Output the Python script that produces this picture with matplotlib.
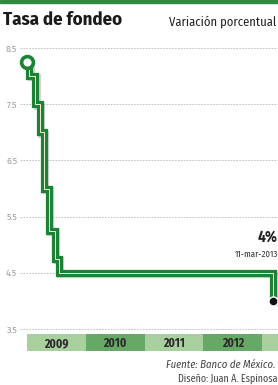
import matplotlib.pyplot as plt
import matplotlib.patheffects as pe

# datos: tasa objetivo Banxico (fecha en años fraccionarios)
fechas = [2009.0, 2009.04, 2009.14, 2009.22, 2009.29, 2009.37, 2009.47, 2009.54, 2013.18, 2013.19]
tasas = [8.25, 8.0, 7.5, 7.0, 6.0, 5.25, 4.75, 4.5, 4.0, 4.0]
anios = [2009, 2010, 2011, 2012, 2013]
etiquetas_anio = ["2009", "2010", "2011", "2012", ""]
colores_anio = ["#a9cf9f", "#66a866", "#a9cf9f", "#66a866", "#a9cf9f"]
yticks = [3.5, 4.5, 5.5, 6.5, 7.5, 8.5]

fuente = ["Fira Sans Condensed", "PT Sans Narrow", "DejaVu Sans"]
plt.rcParams["font.family"] = fuente

verde = "#1c8236"

fig = plt.figure(figsize=(2.78, 3.85), dpi=100)
fig.patches.append(plt.Rectangle((0, 1 - 3 / 385), 1, 3 / 385, transform=fig.transFigure,
                                 color="#2e8b3e", zorder=0))

ax = fig.add_axes([20 / 278, 1 - 329 / 385, 258 / 278, 281 / 385])
ax.set_xlim(2008.88, 2013.27)
ax.set_ylim(3.5, 8.5)
for s in ax.spines.values():
    s.set_visible(False)
ax.set_xticks([])
ax.set_yticks(yticks)
ax.set_yticklabels([str(t) for t in yticks], fontsize=7, color="#a0a0a0")
ax.tick_params(axis="y", length=0, pad=2)
for t in yticks:
    ax.axhline(t, color="#b8b8b8", lw=0.6, ls=(0, (2, 1.5)), zorder=1, clip_on=False)

ax.plot(fechas, tasas, drawstyle="steps-post", color=verde, lw=5.2, zorder=3,
        solid_joinstyle="miter", clip_on=False,
        path_effects=[pe.SimpleLineShadow(offset=(1, -1), shadow_color="#888888", alpha=0.35),
                      pe.Normal()])
ax.plot(fechas, tasas, drawstyle="steps-post", color="#f3efd6", lw=0.7, zorder=4,
        solid_joinstyle="miter", clip_on=False)
ax.plot(fechas[0], tasas[0], "o", ms=8.5, mfc="white", mec=verde, mew=2.6, zorder=5, clip_on=False)
ax.plot(fechas[-1], tasas[-1], "o", ms=6.5, mfc="#111111", mec="white", mew=1, zorder=5, clip_on=False)

ax.text(2013.27, 5.05, "4%", ha="right", va="baseline", fontsize=11, fontweight="bold",
        color="#222222")
ax.text(2013.27, 4.78, "11-mar-2013", ha="right", va="baseline", fontsize=6.3,
        color="#333333")

# franjas de años
ax2 = fig.add_axes([20 / 278, 1 - 351 / 385, 258 / 278, 17 / 385], sharex=ax)
ax2.bar(anios, [1] * len(anios), width=1, align="edge", color=colores_anio, edgecolor="none")
ax2.set_ylim(0, 1)
ax2.axis("off")
for a, e in zip(anios, etiquetas_anio):
    ax2.text(a + 0.5, 0.45, e, ha="center", va="center", fontsize=8.5, fontweight="bold",
             color="#2a2a2a")

fig.text(3 / 278, 1 - 25 / 385, "Tasa de fondeo", fontsize=13.5, fontweight="bold",
         color="#1a1a1a", va="baseline")
fig.text(276 / 278, 1 - 25 / 385, "Variación porcentual", fontsize=9,
         color="#222222", va="baseline", ha="right")
fig.text(276 / 278, 1 - 368 / 385, "Fuente: Banco de México.", fontsize=7.7, style="italic",
         color="#444444", ha="right", va="baseline")
fig.text(277 / 278, 1 - 382 / 385, "Diseño: Juan A. Espinosa", fontsize=7.2,
         color="#444444", ha="right", va="baseline")

fig.savefig("out.png", dpi=100)
